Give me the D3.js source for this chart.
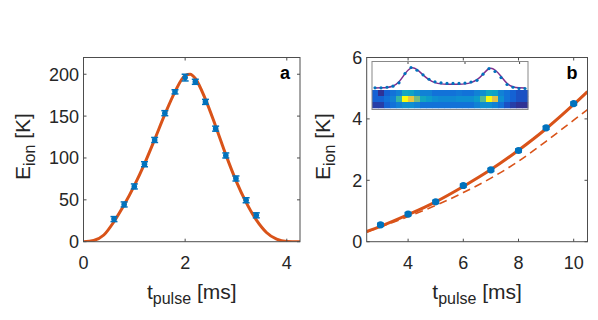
<!DOCTYPE html>
<html><head><meta charset="utf-8">
<script src="https://cdn.jsdelivr.net/npm/d3@7/dist/d3.min.js"></script>
<style>body{margin:0;background:#fff}svg{display:block;font-family:"Liberation Sans",Arial,sans-serif}</style>
</head><body>
<svg id="c" width="598" height="320"></svg>
<script>
// ---------- data ----------
// panel a: measured points
const tA = [0.6,0.8,1.0,1.2,1.4,1.6,1.8,2.0,2.2,2.4,2.6,2.8,3.0,3.2,3.4];
const eA = [27,44.5,66,92.5,121.5,153.5,179,196,191,167,135,103,75.5,49.5,31.5];
const errA = [3,3,3,3,3,3,2.5,4,3,3,3,3,3,3,3];
// panel a: fit curve samples
const tFitA = [0,0.2,0.4,0.6,0.8,1.0,1.2,1.4,1.6,1.8,2.0,2.1,2.2,2.4,2.6,2.8,3.0,3.2,3.4,3.6,3.8,4.0,4.26];
const eFitA = [0,1.5,8,24,44,67,93,122,152,179,198.5,200,195,170,138,104,73,47,26,11,3,0.3,0];
// panel b: measured points
const tB = [3,4,5,6,7,8,9,10];
const eB = [0.55,0.9,1.3,1.83,2.34,2.97,3.71,4.5];
const errB = [0.05,0.05,0.05,0.05,0.05,0.05,0.05,0.05];
// panel b: fit curves
const tFitB = [2.5,3,4,5,6,7,8,9,10,10.5];
const eSolidB = [0.33,0.5,0.88,1.3,1.8,2.35,2.98,3.68,4.47,4.89];
const eDashB = [0.32,0.48,0.82,1.18,1.6,2.07,2.62,3.27,3.96,4.3];
// inset: profile (dots and fit), image rows
const profDots = [0.03,0.03,0.06,0.11,0.27,0.71,1.0,0.87,0.65,0.44,0.32,0.27,0.24,0.24,0.24,0.26,0.31,0.39,0.68,0.95,0.81,0.52,0.19,0.06,0,0];
const profFit  = [0.02,0.03,0.05,0.12,0.32,0.7,0.97,0.9,0.65,0.42,0.28,0.22,0.2,0.2,0.2,0.22,0.28,0.42,0.68,0.94,0.88,0.58,0.25,0.08,0.03,0.02];
const imgTop = [0.15,0.02,0.15,0.2,0.25,0.4,0.38,0.3,0.25,0.25,0.2,0.2,0.2,0.2,0.22,0.2,0.2,0.25,0.3,0.4,0.38,0.25,0.2,0.15,0.1,0.1];
const imgMid = [0.15,0.15,0.2,0.25,0.5,1.0,0.82,0.6,0.4,0.35,0.3,0.28,0.28,0.28,0.3,0.3,0.3,0.35,0.55,1.0,0.8,0.3,0.2,0.15,0.1,0.1];
const imgBot = [0.05,0.05,0.15,0.2,0.25,0.3,0.3,0.25,0.2,0.2,0.2,0.2,0.2,0.2,0.2,0.2,0.2,0.25,0.3,0.3,0.25,0.2,0.1,0.05,0.02,0.02];
// ticks
const xTicksA = [0,2,4], yTicksA = [0,50,100,150,200];
const xTicksB = [4,6,8,10], yTicksB = [0,2,4,6];

// ---------- drawing ----------
const svg = d3.select("#c");
const BLUE = "#0072BD", ORANGE = "#D95319", TXT = "#262626", AX = "#4d4d4d";
const parula = d3.interpolateRgbBasis(["#352a87","#0f5cdd","#1481d6","#06a4ca","#2eb7a4","#87bf77","#d1bb59","#fec832","#f9fb0e"]);

function frame(x, y, xt, yt, tag) {
  const g = svg.append("g");
  const [x0,x1] = x.range(), [y0,y1] = y.range();
  const L = 3;
  g.append("rect").attr("x",x0).attr("y",y1).attr("width",x1-x0).attr("height",y0-y1)
    .attr("fill","none").attr("stroke",AX).attr("stroke-width",1);
  xt.forEach(v=>{
    const px = x(v);
    g.append("line").attr("x1",px).attr("x2",px).attr("y1",y0).attr("y2",y0-L).attr("stroke",AX);
    g.append("line").attr("x1",px).attr("x2",px).attr("y1",y1).attr("y2",y1+L).attr("stroke",AX);
    g.append("text").attr("x",px).attr("y",y0+27).attr("text-anchor","middle")
      .attr("font-size",18).attr("fill",TXT).text(v);
  });
  yt.forEach(v=>{
    const py = y(v);
    g.append("line").attr("x1",x0).attr("x2",x0+L).attr("y1",py).attr("y2",py).attr("stroke",AX);
    g.append("line").attr("x1",x1).attr("x2",x1-L).attr("y1",py).attr("y2",py).attr("stroke",AX);
    g.append("text").attr("x",x0-4.5).attr("y",py+6.5).attr("text-anchor","end")
      .attr("font-size",18).attr("fill",TXT).text(v);
  });
  g.append("text").attr("x",x1-10).attr("y",y1+21).attr("text-anchor","end")
    .attr("font-size",18).attr("font-weight","bold").attr("fill","#000").text(tag);
  return g;
}
function labels(x, y, ylx) {
  const [x0,x1] = x.range(), [y0,y1] = y.range();
  const xl = svg.append("text").attr("x",(x0+x1)/2).attr("y",299).attr("text-anchor","middle")
    .attr("font-size",21).attr("fill",TXT);
  xl.append("tspan").text("t");
  xl.append("tspan").attr("font-size",16).attr("dy",5).text("pulse");
  xl.append("tspan").attr("dy",-5).text(" [ms]");
  const yl = svg.append("text").attr("transform",`translate(${ylx},${(y0+y1)/2-3}) rotate(-90)`)
    .attr("text-anchor","middle").attr("font-size",21).attr("fill",TXT);
  yl.append("tspan").text("E");
  yl.append("tspan").attr("font-size",16).attr("dy",5).text("ion");
  yl.append("tspan").attr("dy",-5).text(" [K]");
}
function points(g, x, y, xs, ys, es, r, cap) {
  xs.forEach((t,i)=>{
    const px = x(t), ya = y(ys[i]-es[i]), yb = y(ys[i]+es[i]);
    g.append("line").attr("x1",px).attr("x2",px).attr("y1",ya).attr("y2",yb).attr("stroke",BLUE).attr("stroke-width",1.5);
    g.append("line").attr("x1",px-cap).attr("x2",px+cap).attr("y1",ya).attr("y2",ya).attr("stroke",BLUE).attr("stroke-width",1.5);
    g.append("line").attr("x1",px-cap).attr("x2",px+cap).attr("y1",yb).attr("y2",yb).attr("stroke",BLUE).attr("stroke-width",1.5);
    g.append("circle").attr("cx",px).attr("cy",y(ys[i])).attr("r",r).attr("fill",BLUE);
  });
}

// panel a
const xA = d3.scaleLinear().domain([0,4.26]).range([83.5,300]);
const yA = d3.scaleLinear().domain([0,220]).range([241.7,57.5]);
const gA = svg.append("g");
svg.append("defs").append("clipPath").attr("id","clipA").append("rect")
  .attr("x",83.5).attr("y",57.5).attr("width",300-83.5).attr("height",241.7-57.5);
gA.append("path").datum(tFitA.map((t,i)=>[t,eFitA[i]]))
  .attr("clip-path","url(#clipA)")
  .attr("d",d3.line().x(d=>xA(d[0])).y(d=>yA(d[1])).curve(d3.curveMonotoneX))
  .attr("fill","none").attr("stroke",ORANGE).attr("stroke-width",3);
points(gA, xA, yA, tA, eA, errA, 2.8, 3.5);
frame(xA, yA, xTicksA, yTicksA, "a");
labels(xA, yA, 30);

// panel b
const xB = d3.scaleLinear().domain([2.5,10.5]).range([366.7,587.5]);
const yB = d3.scaleLinear().domain([0,6]).range([241.7,57.5]);
const gB = svg.append("g");
svg.select("defs").append("clipPath").attr("id","clipB").append("rect")
  .attr("x",366.7).attr("y",57.5).attr("width",587.5-366.7).attr("height",241.7-57.5);
const lineB = d3.line().x(d=>xB(d[0])).y(d=>yB(d[1])).curve(d3.curveMonotoneX);
gB.append("path").datum(tFitB.map((t,i)=>[t,eDashB[i]])).attr("clip-path","url(#clipB)")
  .attr("d",lineB).attr("fill","none").attr("stroke",ORANGE).attr("stroke-width",1.6).attr("stroke-dasharray","8,5");
gB.append("path").datum(tFitB.map((t,i)=>[t,eSolidB[i]])).attr("clip-path","url(#clipB)")
  .attr("d",lineB).attr("fill","none").attr("stroke",ORANGE).attr("stroke-width",3);
points(gB, xB, yB, tB, eB, errB, 3.6, 3.5);
frame(xB, yB, xTicksB, yTicksB, "b");
labels(xB, yB, 330);

// inset
const ncol = profDots.length;
const xI = d3.scaleLinear().domain([0,ncol]).range([372,528]);
const yP = d3.scaleLinear().domain([0,1]).range([88.5,67.5]);
const gI = svg.append("g");
gI.append("rect").attr("x",372).attr("y",61.5).attr("width",156).attr("height",48).attr("fill","#fff");
[imgTop,imgMid,imgBot].forEach((row,r)=>{
  row.forEach((v,c)=>{
    gI.append("rect").attr("x",xI(c)).attr("y",90+r*6).attr("width",xI(1)-xI(0)+0.3).attr("height",6.3)
      .attr("fill",parula(v));
  });
});
gI.append("path").datum(profFit.map((v,i)=>[i+0.5,v]))
  .attr("d",d3.line().x(d=>xI(d[0])).y(d=>yP(d[1])).curve(d3.curveNatural))
  .attr("fill","none").attr("stroke","#7E2F8E").attr("stroke-width",1.5);
profDots.forEach((v,i)=>{
  gI.append("circle").attr("cx",xI(i+0.5)).attr("cy",yP(v)).attr("r",1.6).attr("fill",BLUE);
});
[6,15.5,24.6].forEach(c=>{
  gI.append("line").attr("x1",xI(c)).attr("x2",xI(c)).attr("y1",61.5).attr("y2",64).attr("stroke","#444");
});
gI.append("rect").attr("x",372).attr("y",61.5).attr("width",156).attr("height",48)
  .attr("fill","none").attr("stroke","#888").attr("stroke-width",1);
</script>
</body></html>
